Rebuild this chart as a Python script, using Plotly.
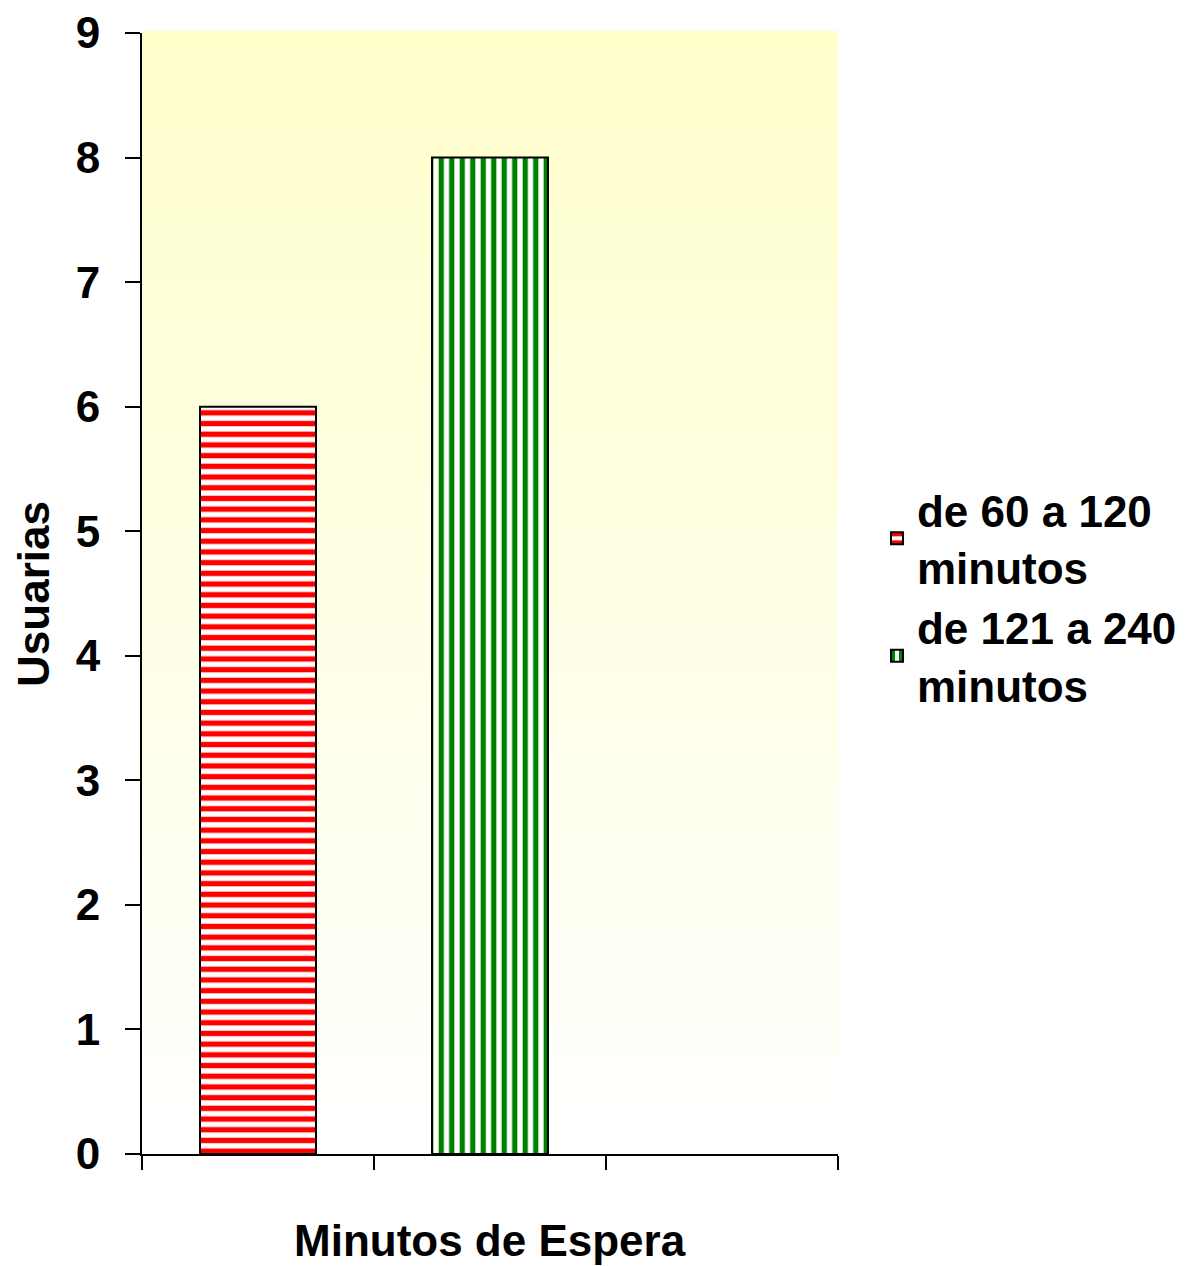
import plotly.graph_objects as go

series_names = ["de 60 a 120<br>minutos", "de 121 a 240<br>minutos"]
series_values = [6, 8]
series_positions = [0, 1]
y_ticks = [0, 1, 2, 3, 4, 5, 6, 7, 8, 9]
x_tick_positions = [-0.5, 0.5, 1.5, 2.5]
x_title = "Minutos de Espera"
y_title = "Usuarias"

FONT = "Liberation Sans, Arial, sans-serif"
FS = 44

fig = go.Figure()
fig.add_trace(go.Bar(
    x=[series_positions[0]], y=[series_values[0]], name=series_names[0],
    width=0.5,
    marker=dict(color="white", line=dict(color="black", width=2),
                pattern=dict(shape="-", fgcolor="#FF0000", bgcolor="white",
                             size=10.7, solidity=0.5, fillmode="replace")),
))
fig.add_trace(go.Bar(
    x=[series_positions[1]], y=[series_values[1]], name=series_names[1],
    width=0.5,
    marker=dict(color="white", line=dict(color="black", width=2),
                pattern=dict(shape="|", fgcolor="#008000", bgcolor="white",
                             size=10.5, solidity=0.5, fillmode="replace")),
))

# vertical gradient background (light yellow at top to white at bottom)
N = 80
shapes = []
for i in range(N):
    blue = 204 + int(round(51 * (1 - (i + 0.5) / N)))
    shapes.append(dict(type="rect", xref="x domain", yref="y domain",
                       x0=0, x1=1, y0=i / N, y1=(i + 1) / N + 0.002,
                       fillcolor=f"rgb(255,255,{blue})",
                       line=dict(width=0), layer="below"))

annotations = [
    dict(text=f"<b>{x_title}</b>", xref="paper", yref="paper", x=0.5, y=-0.0775,
         xanchor="center", yanchor="middle", showarrow=False, borderpad=0,
         font=dict(family=FONT, size=FS, color="black")),
    dict(text=f"<b>{y_title}</b>", xref="paper", yref="paper", x=-0.156, y=0.5,
         xanchor="center", yanchor="middle", showarrow=False, textangle=-90,
         borderpad=0, font=dict(family=FONT, size=FS, color="black")),
]

fig.update_layout(
    width=1193, height=1258,
    margin=dict(l=134, r=363, t=25, b=112),
    paper_bgcolor="white", plot_bgcolor="white",
    shapes=shapes,
    annotations=annotations,
    showlegend=True,
    font=dict(family=FONT, size=FS, color="black"),
    legend=dict(x=1.056, y=0.606, xanchor="left", yanchor="top",
                font=dict(family=FONT, size=FS, color="black", weight="bold"),
                bgcolor="rgba(0,0,0,0)", tracegroupgap=10, itemwidth=30),
    bargap=0.5,
)
fig.update_xaxes(range=[-0.5, 2.5], tickmode="array", tickvals=x_tick_positions,
                 showticklabels=False, ticks="outside", ticklen=14, tickwidth=2,
                 tickcolor="black", showline=True, linecolor="black", linewidth=2,
                 showgrid=False, zeroline=False, automargin=False)
fig.update_yaxes(range=[0, 9], tickmode="array", tickvals=y_ticks,
                 ticks="outside", ticklen=15, tickwidth=2, tickcolor="black",
                 tickfont=dict(family=FONT, size=FS, weight="bold"),
                 ticklabelstandoff=16, automargin=False,
                 showline=True, linecolor="black", linewidth=2,
                 showgrid=False, zeroline=False)

fig.write_html("out.html")
